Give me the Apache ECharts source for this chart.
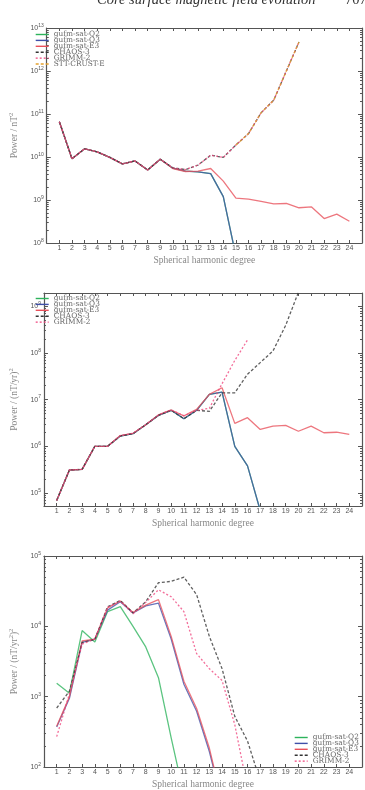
<!DOCTYPE html>
<html>
<head>
<meta charset="utf-8">
<script src="https://cdn.jsdelivr.net/npm/echarts@6/dist/echarts.min.js"></script>
<style>
html,body{margin:0;padding:0;background:#fff;}
#chart{width:365px;height:790px;}
</style>
</head>
<body>
<div id="chart"></div>
<script>
// 球谐阶数
var degrees=[1,2,3,4,5,6,7,8,9,10,11,12,13,14,15,16,17,18,19,20,21,22,23,24];

// 面板1: 主磁场谱 (nT^2)
var mfQ2=[6.6e10,9.1e9,1.55e10,1.32e10,9.8e9,6.9e9,8.1e9,5.0e9,8.9e9,5.5e9,4.7e9,4.5e9,4.1e9,1.2e9,5e7];
var mfQ3=[6.6e10,9.1e9,1.55e10,1.32e10,9.8e9,6.9e9,8.1e9,5.0e9,8.9e9,5.5e9,4.7e9,4.5e9,4.1e9,1.2e9,5e7];
var mfE3=[6.6e10,9.1e9,1.55e10,1.32e10,9.8e9,6.9e9,8.1e9,5.0e9,8.9e9,5.4e9,4.6e9,4.7e9,5.4e9,2.75e9,1.1e9,1.05e9,9.3e8,8.1e8,8.3e8,6.6e8,6.9e8,3.7e8,4.7e8,3.2e8];
var mfCHAOS=[6.6e10,9.1e9,1.55e10,1.32e10,9.8e9,6.9e9,8.1e9,5.0e9,8.9e9,5.6e9,5.1e9,6.5e9,1.1e10,9.8e9,1.9e10,3.5e10,1.07e11,2.1e11,1.0e12,4.7e12];
var mfGRIMM=[6.6e10,9.1e9,1.55e10,1.32e10,9.8e9,6.9e9,8.1e9,5.0e9,8.9e9,5.6e9,5.1e9,6.5e9,1.1e10,9.8e9,1.9e10,3.5e10,1.07e11,2.1e11,1.0e12,4.7e12];
var mfSTT=[null,null,null,null,null,null,null,null,null,null,null,null,null,null,1.9e10,3.5e10,1.07e11,2.1e11,1.0e12,4.7e12];

// 面板2: 长期变化谱 (nT/yr)^2
var svQ2=[6.9e4,3.1e5,3.2e5,1.0e6,1.0e6,1.66e6,1.86e6,2.9e6,4.6e6,5.9e6,3.9e6,5.9e6,1.29e7,1.45e7,1.0e6,3.8e5,4.2e4];
var svQ3=[6.9e4,3.1e5,3.2e5,1.0e6,1.0e6,1.66e6,1.86e6,2.9e6,4.6e6,5.9e6,3.9e6,5.9e6,1.29e7,1.45e7,1.0e6,3.8e5,4.2e4];
var svE3=[6.9e4,3.1e5,3.2e5,1.0e6,1.0e6,1.7e6,1.9e6,2.9e6,4.7e6,6.0e6,4.5e6,6.2e6,1.3e7,1.8e7,3.1e6,4.1e6,2.3e6,2.7e6,2.8e6,2.1e6,2.7e6,1.95e6,2.0e6,1.8e6];
var svCHAOS=[6.9e4,3.1e5,3.2e5,1.0e6,1.0e6,1.66e6,1.86e6,2.9e6,4.6e6,5.9e6,3.9e6,5.9e6,5.6e6,1.4e7,1.4e7,3.5e7,6.2e7,1.1e8,3.9e8,2.0e9];
var svGRIMM=[6.9e4,3.1e5,3.2e5,1.0e6,1.0e6,1.7e6,1.9e6,2.9e6,4.7e6,6.0e6,4.5e6,5.9e6,6.5e6,2.2e7,6.9e7,1.9e8];

// 面板3: 长期加速度谱 (nT/yr^2)^2
var saQ2=[1550,1120,8700,6000,16200,19000,10000,5100,1860,260,40];
var saQ3=[370,950,5900,6600,17000,22400,15500,19500,21400,6600,1500,620,166,32];
var saE3=[380,1000,6200,6600,18200,22900,15800,20000,24000,7200,1660,680,186,32];
var saCHAOS=[690,1200,5900,6500,19000,23400,15500,22400,41700,43600,50000,28200,7200,2500,525,234,63];
var saGRIMM=[270,1100,5600,6600,18600,22900,15100,21900,33100,26300,16200,4100,2500,1700,400,50];

// y轴十的幂次
var ticks1=[8,9,10,11,12,13];
var ticks2=[5,6,7,8,9];
var ticks3=[2,3,4,5];

var colors={q2:'#2db35c',q3:'#3f4fa8',e3:'#e8505a',chaos:'#333333',grimm:'#f0457e',stt:'#e5a12e'};
var grids=[
    {left:31,top:28,width:331,height:215},
    {left:31,top:293,width:331,height:213},
    {left:31,top:556,width:331,height:213}
];
var yRange=[[8,13],[4.72,9.285],[2,5]];
var yMajor=[ticks1,ticks2,ticks3];
var yNames=['Power / nT{s|2}','Power / (nT/yr){s|2}','Power / (nT/yr{s|2}){s|2}'];

function minorTicks(r){
    var out=[];
    for(var n=Math.floor(r[0]);n<=Math.ceil(r[1]);n++){
        for(var k=2;k<10;k++){
            var v=n+Math.log10(k);
            if(v>r[0]&&v<r[1]) out.push(v);
        }
    }
    return out;
}
function labelFmt(v){
    return '{b|10}{s|'+Math.round(v)+'}';
}
var labelRich={b:{fontSize:7,fontFamily:'Liberation Sans',color:'#555'},s:{fontSize:5,fontFamily:'Liberation Sans',color:'#555',padding:[0,0,5,0]}};
var lineC='#555';

var xAxes=[],yAxes=[];
for(var g=0;g<3;g++){
    xAxes.push({
        type:'value',gridIndex:g,min:0,max:25,position:'bottom',
        name:'Spherical harmonic degree',nameLocation:'middle',nameGap:12,
        nameTextStyle:{fontFamily:'Liberation Serif',fontSize:9.5,color:'#888'},
        axisLine:{lineStyle:{color:lineC,width:1.2}},
        axisTick:{inside:true,length:3,customValues:degrees,lineStyle:{color:lineC}},
        axisLabel:{customValues:degrees,margin:2,fontSize:7,fontFamily:'Liberation Sans',color:'#555'},
        splitLine:{show:false}
    });
    xAxes.push({
        type:'value',gridIndex:g,min:0,max:25,position:'top',
        axisLine:{lineStyle:{color:lineC,width:1.2}},
        axisTick:{inside:true,length:3,customValues:degrees,lineStyle:{color:lineC}},
        axisLabel:{show:false},splitLine:{show:false}
    });
    var r=yRange[g];
    var mn=minorTicks(r);
    yAxes.push({
        type:'value',gridIndex:g,min:r[0],max:r[1],position:'left',
        name:yNames[g],nameLocation:'middle',nameGap:19,
        nameTextStyle:{fontFamily:'Liberation Serif',fontSize:9.5,color:'#888',rich:{s:{fontSize:6.5,fontFamily:'Liberation Serif',color:'#888',padding:[0,0,6,0]}}},
        axisLine:{lineStyle:{color:lineC,width:1.2}},
        axisTick:{inside:true,length:4,customValues:yMajor[g],lineStyle:{color:lineC}},
        axisLabel:{customValues:yMajor[g],formatter:labelFmt,rich:labelRich,margin:3},
        splitLine:{show:false}
    });
    yAxes.push({
        type:'value',gridIndex:g,min:r[0],max:r[1],position:'left',
        axisLine:{show:false},
        axisTick:{inside:true,length:2,customValues:mn,lineStyle:{color:lineC}},
        axisLabel:{show:false},splitLine:{show:false}
    });
    yAxes.push({
        type:'value',gridIndex:g,min:r[0],max:r[1],position:'right',
        axisLine:{lineStyle:{color:lineC,width:1.2}},
        axisTick:{inside:true,length:4,customValues:yMajor[g],lineStyle:{color:lineC}},
        axisLabel:{show:false},splitLine:{show:false}
    });
    yAxes.push({
        type:'value',gridIndex:g,min:r[0],max:r[1],position:'right',
        axisLine:{show:false},
        axisTick:{inside:true,length:2,customValues:mn,lineStyle:{color:lineC}},
        axisLabel:{show:false},splitLine:{show:false}
    });
}

function mk(name,vals,g,color,dash,z){
    var d=[];
    for(var i=0;i<vals.length;i++){
        if(vals[i]!=null) d.push([degrees[i],Math.log10(vals[i])]);
    }
    return {
        name:name,type:'line',xAxisIndex:g*2,yAxisIndex:g*4,data:d,
        symbol:'none',color:color,z:z,clip:true,
        lineStyle:{color:color,width:1.3,type:dash||'solid',opacity:0.78}
    };
}

var series=[
    mk('gufm-sat-Q2',mfQ2,0,colors.q2,null,2),
    mk('gufm-sat-Q3',mfQ3,0,colors.q3,null,3),
    mk('gufm-sat-E3',mfE3,0,colors.e3,null,4),
    mk('CHAOS-3',mfCHAOS,0,colors.chaos,[3,2],5),
    mk('GRIMM-2',mfGRIMM,0,colors.grimm,[2,2],6),
    mk('STT-CRUST-E',mfSTT,0,colors.stt,[3,2],7),
    mk('gufm-sat-Q2',svQ2,1,colors.q2,null,2),
    mk('gufm-sat-Q3',svQ3,1,colors.q3,null,3),
    mk('gufm-sat-E3',svE3,1,colors.e3,null,4),
    mk('CHAOS-3',svCHAOS,1,colors.chaos,[3,2],5),
    mk('GRIMM-2',svGRIMM,1,colors.grimm,[2,2],6),
    mk('gufm-sat-Q2',saQ2,2,colors.q2,null,2),
    mk('gufm-sat-Q3',saQ3,2,colors.q3,null,3),
    mk('gufm-sat-E3',saE3,2,colors.e3,null,4),
    mk('CHAOS-3',saCHAOS,2,colors.chaos,[3,2],5),
    mk('GRIMM-2',saGRIMM,2,colors.grimm,[2,2],6)
];

var legText={fontFamily:'DejaVu Serif',fontSize:7.4,color:'#666'};
function leg(names,left,top){
    return {orient:'vertical',left:left,top:top,padding:0,itemGap:-1.1,itemWidth:13,itemHeight:5,
        data:names,textStyle:legText,selectedMode:false,
        lineStyle:{width:1.4,opacity:1},
        itemStyle:{opacity:0,color:'rgba(0,0,0,0)',borderWidth:0}};
}

var option={
    animation:false,
    backgroundColor:'#fff',
    grid:grids,
    xAxis:xAxes,
    yAxis:yAxes,
    legend:[
        leg(['gufm-sat-Q2','gufm-sat-Q3','gufm-sat-E3','CHAOS-3','GRIMM-2','STT-CRUST-E'],35,31),
        leg(['gufm-sat-Q2','gufm-sat-Q3','gufm-sat-E3','CHAOS-3','GRIMM-2'],35,295),
        leg(['gufm-sat-Q2','gufm-sat-Q3','gufm-sat-E3','CHAOS-3','GRIMM-2'],294,734)
    ],
    graphic:[
        {type:'text',left:97,top:-7,style:{text:'Core surface magnetic field evolution',font:'italic 14.5px "Liberation Serif"',fill:'#333'}},
        {type:'text',left:345,top:-7,style:{text:'707',font:'14.5px "Liberation Serif"',fill:'#333'}}
    ],
    series:series
};

var myChart=echarts.init(document.getElementById('chart'));
myChart.setOption(option);
window.addEventListener('resize',function(){
    myChart.resize();
});
</script>
</body>
</html>
